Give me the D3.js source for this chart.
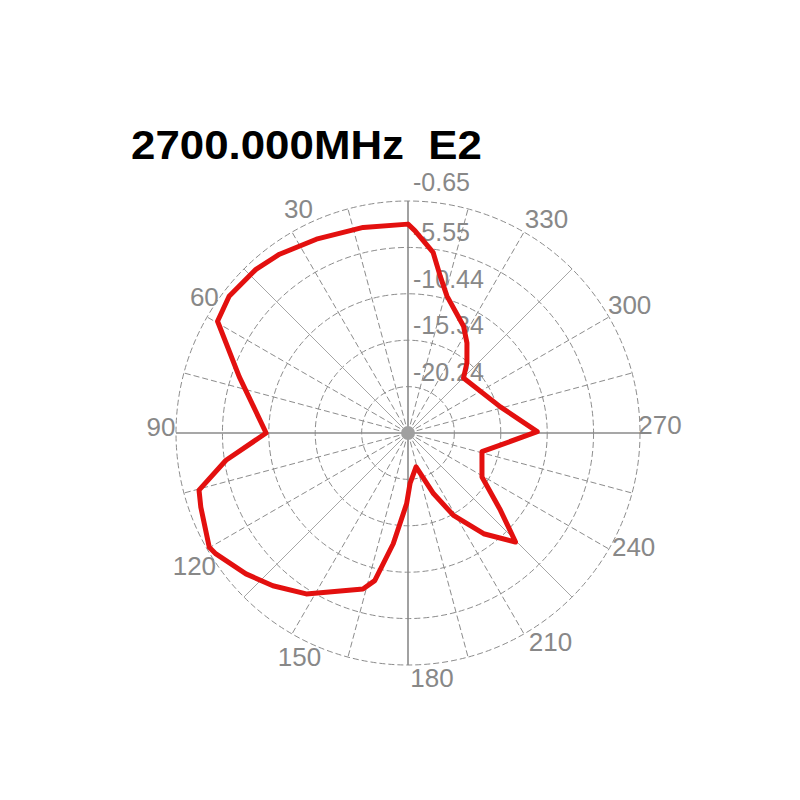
<!DOCTYPE html>
<html>
<head>
<meta charset="utf-8">
<script src="https://cdn.jsdelivr.net/npm/d3@7"></script>
<style>
  html, body { margin: 0; padding: 0; background: #fff; }
  svg { display: block; }
</style>
</head>
<body>
<svg id="chart" width="800" height="800"></svg>
<script>
// pattern: angle (deg, counter-clockwise from top) and level (dB)
const angles = [0, 12.3, 25.3, 35.7, 42.9, 52.6, 59.6, 71.6, 90, 98.5, 105.3, 109.7,
  119.9, 122.2, 131, 138.5, 147.7, 163.9, 167.3, 172.4, 178.9, 182.3, 193.4, 202.8,
  208.9, 216.9, 224.6, 230.1, 239.3, 255.8, 270.6, 285.8, 314.7, 319.9, 326.8, 332.5,
  344.1, 348.4, 352.1, 358]
const gains = [-3.09, -2.93, -2.51, -1.90, -1.56, -1.37, -1.83, -6.37, -10.16, -5.71, -2.27, -1.91,
  -0.94, -1.18, -2.47, -3.61, -5.04, -8.00, -9.16, -13.34, -17.68, -19.80, -21.46, -18.2,
  -15.2, -11.84, -8.97, -12.41, -16.05, -17.08, -11.49, -15.0, -16.89, -15.48, -13.77, -12.43,
  -10.11, -8.23, -5.88, -3.79]

const ringValues = [-0.65, -5.55, -10.44, -15.34, -20.24]
const ringLabels = ["-0.65", "-5.55", "-10.44", "-15.34", "-20.24"]
const angleLabels = [30, 60, 90, 120, 150, 180, 210, 240, 270, 300, 330]
const title = "2700.000MHz  E2"

// layout
const cx = 408, cy = 433, R = 232
const gridColor = "#8c8c8c"
const textColor = "#888888"

const svg = d3.select("#chart")
const g = svg.append("g").attr("transform", `translate(${cx},${cy})`)

const r = d3.scaleLinear().domain([-25.13, -0.65]).range([0, R])
const rad = deg => deg * Math.PI / 180
// screen position for ccw-from-top angle
const pos = (deg, rr) => [-rr * Math.sin(rad(deg)), -rr * Math.cos(rad(deg))]

// rings
g.selectAll("circle.ring")
  .data(ringValues)
  .join("circle")
  .attr("class", "ring")
  .attr("r", d => r(d))
  .attr("fill", "none")
  .attr("stroke", gridColor)
  .attr("stroke-width", 1)
  .attr("stroke-dasharray", "6,3")

// spokes every 15 deg
const spokes = d3.range(0, 360, 15)
g.selectAll("line.spoke")
  .data(spokes)
  .join("line")
  .attr("class", "spoke")
  .attr("x1", 0).attr("y1", 0)
  .attr("x2", d => pos(d, R)[0])
  .attr("y2", d => pos(d, R)[1])
  .attr("stroke", d => d % 90 === 0 ? "#8a8a8a" : (d % 45 === 0 ? "#a6a6a6" : gridColor))
  .attr("stroke-width", d => d % 90 === 0 ? 1.6 : 1)
  .attr("stroke-dasharray", d => d % 45 === 0 ? null : "6,3")

// small hub where the spokes meet
g.append("circle").attr("r", 7).attr("fill", "#a0a0a0")

// ring labels, just right of the vertical axis
g.selectAll("text.ringlab")
  .data(ringValues)
  .join("text")
  .attr("class", "ringlab")
  .attr("x", 5)
  .attr("y", (d, i) => -r(d) - (i === 0 ? 10 : 6))
  .attr("fill", textColor)
  .attr("font-family", "Liberation Sans, Arial, sans-serif")
  .attr("font-size", 25)
  .text((d, i) => ringLabels[i])

// angle labels, nudged to where the original software drew them
const nudge = {30: [15, -8], 60: [12, -12], 90: [2, -6], 120: [2, 8], 150: [16, 8],
  180: [24, -4], 210: [18, -7], 240: [10, -11], 270: [3, -8], 300: [6, -4], 330: [14, 2]}
const labelR = 249
g.selectAll("text.anglab")
  .data(angleLabels)
  .join("text")
  .attr("class", "anglab")
  .attr("x", d => pos(d, labelR)[0] + nudge[d][0])
  .attr("y", d => pos(d, labelR)[1] + nudge[d][1])
  .attr("text-anchor", "middle")
  .attr("dominant-baseline", "central")
  .attr("fill", textColor)
  .attr("font-family", "Liberation Sans, Arial, sans-serif")
  .attr("font-size", 26)
  .text(d => d)

// pattern curve
const pts = angles.map((a, i) => [a, gains[i]])
const line = d3.lineRadial()
  .angle(d => -rad(d[0]))
  .radius(d => r(d[1]))
  .curve(d3.curveLinearClosed)

g.append("path")
  .datum(pts)
  .attr("d", line)
  .attr("fill", "none")
  .attr("stroke", "#e3100f")
  .attr("stroke-width", 5)
  .attr("stroke-linejoin", "round")

// title
svg.append("text")
  .attr("x", 131)
  .attr("y", 159)
  .attr("font-family", "Liberation Sans, Arial, sans-serif")
  .attr("font-weight", "bold")
  .attr("font-size", 40)
  .attr("textLength", 351)
  .attr("lengthAdjust", "spacingAndGlyphs")
  .style("white-space", "pre")
  .attr("fill", "#000")
  .text(title)
</script>
</body>
</html>
